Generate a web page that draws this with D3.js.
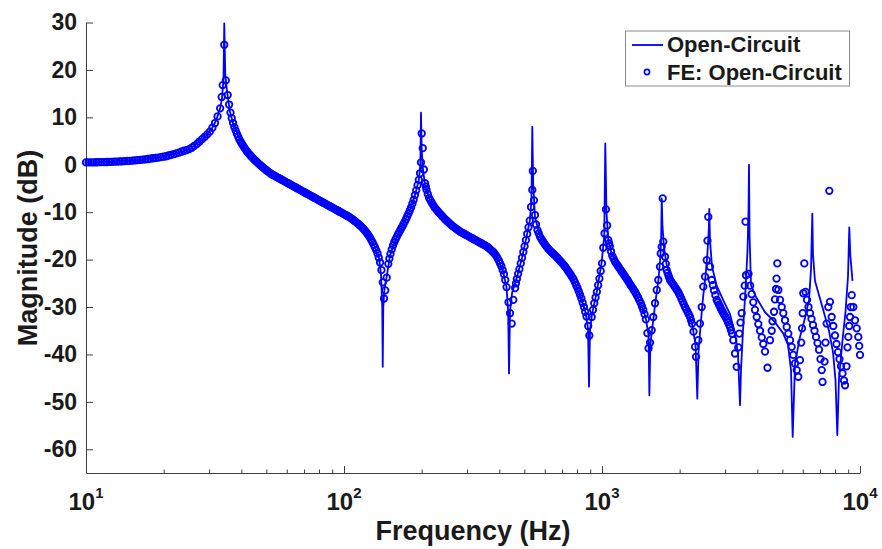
<!DOCTYPE html>
<html>
<head>
<meta charset="utf-8">
<script src="https://cdn.jsdelivr.net/npm/d3@7"></script>
<style>
  html, body { margin: 0; padding: 0; background: #ffffff; }
  svg { display: block; }
  text { font-family: "Liberation Sans", Arial, Helvetica, sans-serif; font-weight: bold; fill: #1a1a1a; }
</style>
</head>
<body>
<svg id="chart" width="882" height="549"></svg>
<script>
// ---------- data ----------
// Analytical curve "Open-Circuit": [frequency Hz, magnitude dB]
const openCircuitLine = [
  [10,0.5],[11.33,0.55],[13.55,0.7],[16.19,1.0],[19.36,1.6],[23.14,2.6],[25.3,3.3],[27.66,5.0],[29.18,6.1],[30.79,7.7],
  [31.91,9.3],[33.07,11.8],[33.66,14.0],[34.11,18.0],[34.35,29.8],[34.66,19.0],[35.2,15.5],[36.15,11.2],[37.13,8.8],[38.38,6.9],
  [39.88,4.7],[41.97,2.8],[45.19,0.9],[48.67,-0.7],[56.48,-2.9],[65.17,-4.9],[76.04,-6.8],[88.26,-8.8],[102.4,-10.6],[111.3,-12.0],
  [118.8,-13.3],[125.9,-15.3],[131.9,-17.4],[136.7,-19.7],[139.1,-23],[140.7,-30],[141.3,-42.6],[142.0,-30],[143.5,-26.2],[146.4,-23.6],
  [150.8,-19.1],[158.5,-15.7],[169.3,-12.7],[180.2,-9.6],[188.4,-6.4],[195.0,-3.2],[197.7,0],[198.8,11.0],[200.1,3.0],[202.4,-1.0],
  [206.1,-4.3],[213.6,-7.0],[229.1,-9.6],[250.7,-11.9],[281.6,-14.1],[316.2,-15.6],[355.1,-17.1],[381.4,-18.6],[398.8,-20.3],[413.4,-22.5],
  [426.4,-25.8],[432.9,-31],[436.1,-44.0],[440.0,-31],[448.1,-27],[467.7,-23.8],[489.7,-19.6],[509.9,-15.2],[524.9,-11.8],[532.9,-7.5],
  [536.8,8.0],[541.1,-4],[549.9,-11.0],[575.0,-15.2],[628.7,-18.1],[691.7,-20.4],[751.7,-23.0],[792.9,-25.3],[829.1,-28.0],[863.0,-31.2],
  [882.6,-34.5],[890.6,-46.8],[898.5,-35],[914.6,-31.5],[954.8,-26.8],[997.3,-20.5],[1020.5,-15],[1029.7,4.5],[1040.8,-10],[1058,-15.9],
  [1093,-19.0],[1174,-22.0],[1284,-25.3],[1378,-28.0],[1441,-30.4],[1481,-32.6],[1515,-36],[1526,-48.6],[1539,-38],[1570,-34],
  [1612,-28.8],[1656,-24.1],[1683,-19.5],[1696,-15],[1704,-7.1],[1716,-13],[1739,-17.5],[1786,-21.5],[1868,-24.3],[2006,-27.5],
  [2136,-30.5],[2233,-33.5],[2304,-38],[2341,-49.3],[2366,-39.5],[2409,-34],[2464,-28],[2519,-23.5],[2564,-18.5],[2594,-13.5],
  [2605,-9.3],[2622,-16],[2670,-21.5],[2783,-25.5],[2952,-28.6],[3134,-31.5],[3277,-35.5],[3366,-40],[3427,-50.7],[3458,-43.3],
  [3520,-34.9],[3599,-26.4],[3665,-18.0],[3697,-9.6],[3713,0],[3733,-15],[3780,-25.4],[3953,-27.9],[4284,-31.1],[4682,-33.2],
  [5031,-35.5],[5259,-38.0],[5403,-43.3],[5484,-57.4],[5599,-41.9],[5853,-36.3],[6121,-32.3],[6344,-28.5],[6458,-22],[6534,-10.3],
  [6574,-19],[6693,-24.5],[7208,-30.7],[7582,-35.0],[7858,-39.5],[8036,-45.4],[8166,-57.0],[8291,-45],[8555,-37],[8787,-31],
  [8985,-23.5],[9089,-13.2],[9171,-19],[9353,-24.5]
];

// Finite-element points "FE: Open-Circuit": [frequency Hz, magnitude dB]
const feOpenCircuit = [
  [10.00,0.50],[10.23,0.50],[10.47,0.51],[10.72,0.52],[10.96,0.53],[11.22,0.54],[11.48,0.55],[11.75,0.57],[12.02,0.58],[12.30,0.60],
  [12.59,0.62],[12.88,0.65],[13.18,0.67],[13.49,0.70],[13.80,0.73],[14.13,0.76],[14.45,0.80],[14.79,0.84],[15.14,0.88],[15.49,0.93],
  [15.85,0.98],[16.22,1.03],[16.60,1.09],[16.98,1.15],[17.38,1.22],[17.78,1.29],[18.20,1.37],[18.62,1.45],[19.05,1.50],[19.50,1.60],
  [19.95,1.70],[20.42,1.80],[20.89,1.95],[21.38,2.10],[21.88,2.25],[22.39,2.40],[22.91,2.55],[23.44,2.75],[23.99,2.95],[24.55,3.10],
  [25.12,3.30],[25.70,3.60],[26.30,4.00],[26.92,4.40],[27.54,4.90],[28.18,5.40],[28.84,5.90],[29.51,6.40],[30.20,7.00],[30.90,7.80],
  [31.62,8.80],[32.36,10.2],[33.11,11.9],[33.57,14.3],[33.87,16.8],[34.35,25.3],[34.82,17.8],[35.42,14.7],[36.31,11.0],[37.15,8.8],
  [38.02,7.2],[38.90,5.9],[39.81,4.8],[40.74,3.9],[41.69,3.1],[42.66,2.4],[43.65,1.8],[44.67,1.2],[45.71,0.7],[46.77,0.2],
  [47.86,-0.3],[48.98,-0.75],[50.12,-1.2],[51.29,-1.6],[52.48,-2.0],[53.70,-2.3],[54.95,-2.6],[56.23,-2.9],[57.54,-3.2],[58.88,-3.5],
  [60.26,-3.8],[61.66,-4.1],[63.10,-4.4],[64.57,-4.7],[66.07,-5.0],[67.61,-5.3],[69.18,-5.6],[70.79,-5.9],[72.44,-6.2],[74.13,-6.5],
  [75.86,-6.8],[77.62,-7.1],[79.43,-7.4],[81.28,-7.7],[83.18,-8.0],[85.11,-8.3],[87.10,-8.6],[89.13,-8.9],[91.20,-9.2],[93.33,-9.5],
  [95.50,-9.8],[97.72,-10.1],[100.0,-10.4],[102.3,-10.7],[104.7,-11.0],[107.2,-11.4],[109.6,-11.8],[112.2,-12.2],[114.8,-12.7],[117.5,-13.2],
  [120.2,-13.8],[123.0,-14.5],[125.9,-15.3],[128.8,-16.3],[131.8,-17.4],[134.9,-18.7],[138.0,-20.6],[139.7,-22.2],[141.3,-24.8],[142.9,-28.2],
  [144.5,-26.5],[146.4,-23.8],[148.5,-20.9],[151.4,-18.8],[154.9,-17.0],[158.5,-15.7],[162.2,-14.6],[166.0,-13.6],[169.8,-12.6],[173.8,-11.5],
  [177.8,-10.3],[182.0,-9.0],[186.2,-7.4],[190.5,-5.4],[195.0,-3.2],[197.1,-1.8],[198.8,0.5],[200.1,6.6],[201.9,3.5],[204.0,-1.0],
  [206.1,-3.9],[208.9,-5.3],[213.8,-7.0],[218.8,-8.0],[223.9,-8.9],[229.1,-9.6],[234.4,-10.2],[239.9,-10.8],[245.5,-11.4],[251.2,-11.9],
  [257.0,-12.4],[263.0,-12.9],[269.2,-13.3],[275.4,-13.7],[281.8,-14.1],[288.4,-14.4],[295.1,-14.7],[302.0,-15.0],[309.0,-15.3],[316.2,-15.6],
  [323.6,-15.9],[331.1,-16.2],[338.8,-16.5],[346.7,-16.8],[354.8,-17.1],[363.1,-17.5],[371.5,-18.0],[380.2,-18.5],[389.0,-19.2],[398.1,-20.2],
  [407.4,-21.4],[416.9,-23.1],[426.6,-25.8],[434.1,-29.0],[440.0,-31.3],[446.7,-33.5],[453.1,-28.5],[460.5,-26.0],[467.7,-24.1],[478.6,-22.0],
  [489.8,-19.6],[501.2,-17.2],[512.9,-14.6],[524.8,-11.8],[530.7,-8.9],[536.8,-5.3],[539.3,-1.3],[545.0,-7.5],[549.9,-10.6],[554.9,-12.6],
  [562.3,-13.8],[575.4,-15.2],[588.8,-16.1],[602.6,-16.9],[616.6,-17.6],[631.0,-18.2],[645.7,-18.7],[660.7,-19.2],[676.1,-19.8],[691.8,-20.4],
  [707.9,-21.0],[724.4,-21.7],[741.3,-22.5],[758.6,-23.3],[776.2,-24.2],[794.3,-25.4],[812.8,-26.7],[831.8,-28.2],[851.1,-30.0],[871.0,-32.0],
  [884.2,-34.0],[893.0,-36.0],[912.0,-32.1],[933.3,-29.2],[955.0,-26.8],[977.2,-24.0],[1000,-20.8],[1011.5,-17.5],[1023,-14.5],[1036,-9.4],
  [1047,-12.8],[1058,-15.9],[1072,-17.2],[1096,-19.2],[1122,-20.4],[1148,-21.2],[1175,-22.0],[1202,-22.8],[1230,-23.6],[1259,-24.4],
  [1288,-25.3],[1318,-26.1],[1349,-27.0],[1380,-28.0],[1413,-29.2],[1445,-30.6],[1479,-32.6],[1499,-35.5],[1515,-38.7],[1535,-37.5],
  [1558,-34.9],[1580,-32.1],[1605,-29.2],[1630,-26.4],[1653,-24.3],[1678,-21.5],[1689,-18.7],[1704,-17.3],[1719,-7.1],[1728,-16.2],
  [1755,-19.4],[1781,-22.2],[1811,-23.4],[1835,-24.3],[1876,-25.0],[1918,-25.8],[1962,-26.6],[2006,-27.6],[2051,-28.8],[2097,-30.0],
  [2145,-31.0],[2194,-32.1],[2233,-33.5],[2263,-35.2],[2294,-38.4],[2314,-40.5],[2362,-37.0],[2397,-33.5],[2435,-30.0],[2470,-25.7],
  [2508,-23.6],[2546,-20.1],[2564,-16.0],[2582,-11.0],[2622,-21.5],[2662,-24.3],[2717,-26.5],[2783,-28.5],[2841,-29.5],[2892,-30.4],
  [2952,-31.3],[3011,-32.1],[3079,-33.2],[3134,-34.2],[3191,-35.6],[3228,-37.0],[3277,-39.8],[3327,-42.6],[3375,-38.5],[3405,-35.6],
  [3442,-33.3],[3479,-31.3],[3529,-27.8],[3574,-25.5],[3615,-23.3],[3599,-12.0],[3697,-23.0],[3753,-25.5],[3804,-27.3],[3858,-29.0],
  [3917,-30.6],[3977,-32.1],[4035,-33.6],[4097,-35.0],[4160,-36.4],[4219,-37.8],[4284,-39.4],[4380,-42.8],[4479,-37.0],[4548,-35.0],
  [4581,-33.0],[4642,-31.0],[4682,-28.4],[4725,-26.2],[4747,-24.0],[4781,-20.8],[4823,-26.4],[4898,-28.5],[4972,-30.0],[5044,-31.3],
  [5121,-32.8],[5199,-34.2],[5274,-35.6],[5354,-37.0],[5436,-38.4],[5514,-40.1],[5599,-41.9],[5685,-43.3],[5766,-44.7],[5853,-41.2],
  [5917,-37.5],[5960,-34.5],[5997,-31.3],[6029,-27.1],[6083,-20.8],[6149,-26.8],[6232,-28.5],[6316,-30.0],[6401,-31.3],[6487,-32.5],
  [6574,-33.8],[6662,-35.0],[6753,-36.3],[6844,-37.6],[6936,-39.0],[7029,-41.0],[7105,-43.3],[7157,-45.8],[7285,-41.5],[7350,-37.5],
  [7429,-33.5],[7536,-30.0],[7604,-5.5],[7651,-28.9],[7767,-32.1],[7880,-34.0],[8000,-36.0],[8108,-37.8],[8217,-39.5],[8328,-41.0],
  [8442,-42.5],[8555,-44.0],[8670,-45.5],[8749,-46.5],[8866,-42.5],[8946,-38.5],[9010,-36.3],[9081,-34.0],[9146,-32.1],[9212,-30.0],
  [9286,-27.5],[9420,-30.0],[9563,-32.8],[9710,-34.5],[9850,-36.3],[9930,-38.2],[10000,-40.1]
];

// Further FE points on the smooth stretches, where the markers merge into a solid band
const feOpenCircuitDense = [
  [35.86,12.7],[36.73,9.8],[37.58,7.95],[38.46,6.5],[39.35,5.3],[40.27,4.35],[41.21,3.5],[42.17,2.75],[43.15,2.1],[44.16,1.5],
  [45.18,0.95],[46.24,0.45],[47.31,-0.05],[48.41,-0.52],[49.55,-0.97],[50.70,-1.4],[51.88,-1.8],[53.09,-2.15],[54.32,-2.45],[55.59,-2.75],
  [56.88,-3.05],[58.21,-3.35],[59.57,-3.65],[60.95,-3.95],[62.37,-4.25],[63.83,-4.55],[65.31,-4.85],[66.83,-5.15],[68.39,-5.45],[69.98,-5.75],
  [71.61,-6.05],[73.28,-6.35],[74.99,-6.65],[76.74,-6.95],[78.52,-7.25],[80.35,-7.55],[82.22,-7.85],[84.14,-8.15],[86.10,-8.45],[88.11,-8.75],
  [90.16,-9.05],[92.26,-9.35],[94.41,-9.65],[96.61,-9.95],[98.86,-10.25],[101.2,-10.55],[103.5,-10.85],[105.9,-11.2],[108.4,-11.6],[110.9,-12.0],
  [113.5,-12.45],[116.1,-12.95],[118.8,-13.5],[121.6,-14.15],[124.5,-14.9],[127.3,-15.8],[130.3,-16.85],[133.3,-18.0],[136.4,-19.6],
  [149.9,-19.8],[153.1,-17.85],[156.7,-16.3],[160.3,-15.15],[164.1,-14.1],[167.9,-13.1],[171.8,-12.05],[175.8,-10.9],[179.9,-9.65],[184.1,-8.2],
  [188.3,-6.4],[192.7,-4.3],
  [207.5,-4.6],[211.3,-6.2],[216.3,-7.5],[221.3,-8.45],[226.5,-9.25],[231.7,-9.9],[237.1,-10.5],[242.7,-11.1],[248.3,-11.65],[254.1,-12.15],
  [260.0,-12.65],[266.1,-13.1],[272.3,-13.5],[278.6,-13.9],[285.1,-14.25],[291.7,-14.55],[298.5,-14.85],[305.5,-15.15],[312.6,-15.45],[319.9,-15.75],
  [327.3,-16.05],[334.9,-16.35],[342.7,-16.65],[350.7,-16.95],[358.9,-17.3],[367.3,-17.75],[375.8,-18.25],[384.6,-18.85],[393.5,-19.7],[402.7,-20.8],
  [412.1,-22.2],[421.7,-24.3],
  [464.1,-25.0],[473.1,-23.0],[484.2,-20.8],[495.5,-18.4],[507.0,-15.9],[518.8,-13.2],
  [568.8,-14.5],[582.1,-15.65],[595.7,-16.5],[609.6,-17.25],[623.8,-17.9],[638.3,-18.45],[653.2,-18.95],[668.4,-19.5],[683.9,-20.1],[699.8,-20.7],
  [716.1,-21.35],[732.8,-22.1],[749.9,-22.9],[767.4,-23.75],[785.2,-24.8],[803.5,-26.0],[822.3,-27.45],[841.4,-29.1],[861.0,-31.0],
  [922.6,-30.6],[944.1,-28.0],[966.1,-25.4],[988.5,-22.4],
  [1065,-16.6],[1084,-18.3],[1109,-19.8],[1135,-20.8],[1161,-21.6],[1188,-22.4],[1216,-23.2],[1244,-24.0],[1273,-24.85],[1303,-25.7],
  [1333,-26.55],[1364,-27.5],[1396,-28.6],[1429,-29.9],[1462,-31.5],
  [1768,-20.9],[1796,-22.8],[1823,-23.85],[1855,-24.65],[1897,-25.4],[1940,-26.2],[1984,-27.1],[2028,-28.2],[2074,-29.4],[2121,-30.5],
  [2169,-31.55],[2213,-32.8],
  [2689,-25.4],[2750,-27.5],[2812,-29.0],[2866,-29.95],[2922,-30.85],[2981,-31.7],[3045,-32.65],[3106,-33.7],[3162,-34.9]
];

const yTicks = [-60, -50, -40, -30, -20, -10, 0, 10, 20, 30];
const xTickExponents = [1, 2, 3, 4];
const xMinorTicks = [20,30,40,50,60,70,80,90,200,300,400,500,600,700,800,900,2000,3000,4000,5000,6000,7000,8000,9000];
const legendLabels = ["Open-Circuit", "FE: Open-Circuit"];
const axisTitles = { x: "Frequency (Hz)", y: "Magnitude (dB)" };

// ---------- drawing ----------
const BLUE = "#0000ff";
const AXIS = "#404040";
const svg = d3.select("#chart");
svg.append("rect").attr("width", 882).attr("height", 549).attr("fill", "#ffffff");

const x = d3.scaleLog().domain([10, 10000]).range([86, 860]);
const y = d3.scaleLinear().domain([-65, 30]).range([473, 22.5]);

// y axis
const gy = svg.append("g").attr("transform", "translate(86,0)")
  .call(d3.axisLeft(y).tickValues(yTicks).tickSizeInner(-7).tickSizeOuter(0).tickPadding(9)
    .tickFormat(d => String(d)));
gy.selectAll("path.domain").attr("stroke", AXIS).attr("stroke-width", 1);
gy.selectAll(".tick line").attr("stroke", AXIS).attr("stroke-width", 1);
gy.selectAll(".tick text").attr("font-size", 23).attr("font-weight", "bold")
  .attr("font-family", '"Liberation Sans", Arial, sans-serif').attr("fill", "#1a1a1a");

// x axis (major)
const gx = svg.append("g").attr("transform", "translate(0,473)")
  .call(d3.axisBottom(x).tickValues(xTickExponents.map(e => Math.pow(10, e)))
    .tickSizeInner(-7).tickSizeOuter(0).tickFormat(""));
gx.selectAll("path.domain").attr("stroke", AXIS).attr("stroke-width", 1);
gx.selectAll(".tick line").attr("stroke", AXIS).attr("stroke-width", 1);

// x axis (minor)
const gxm = svg.append("g").attr("transform", "translate(0,473)")
  .call(d3.axisBottom(x).tickValues(xMinorTicks).tickSizeInner(-3.5).tickSizeOuter(0).tickFormat(""));
gxm.select("path.domain").remove();
gxm.selectAll(".tick line").attr("stroke", AXIS).attr("stroke-width", 1);

// x tick labels 10^n
const xl = svg.append("g");
xTickExponents.forEach(e => {
  const t = xl.append("text")
    .attr("x", x(Math.pow(10, e)))
    .attr("y", 510)
    .attr("text-anchor", "middle")
    .attr("font-size", 24);
  t.append("tspan").text("10");
  t.append("tspan").attr("dy", -12).attr("font-size", 15).text(String(e));
});

// axis titles
svg.append("text").attr("x", 473).attr("y", 540).attr("text-anchor", "middle")
  .attr("font-size", 27).text(axisTitles.x);
svg.append("text").attr("transform", "translate(37,248) rotate(-90)").attr("text-anchor", "middle")
  .attr("font-size", 27).text(axisTitles.y);

// analytical line
const line = d3.line().x(d => x(d[0])).y(d => y(d[1]));
svg.append("path").datum(openCircuitLine)
  .attr("d", line).attr("fill", "none").attr("stroke", BLUE)
  .attr("stroke-width", 1.8).attr("stroke-linejoin", "round");

// FE circles
svg.append("g").selectAll("circle").data(feOpenCircuit.concat(feOpenCircuitDense)).join("circle")
  .attr("cx", d => x(d[0])).attr("cy", d => y(d[1])).attr("r", 3.25)
  .attr("fill", "none").attr("stroke", BLUE).attr("stroke-width", 1.8);

// legend
const lg = svg.append("g");
lg.append("rect").attr("x", 625.5).attr("y", 31).attr("width", 224).attr("height", 55)
  .attr("fill", "#ffffff").attr("stroke", "#8c8c8c").attr("stroke-width", 1);
lg.append("line").attr("x1", 632).attr("x2", 663).attr("y1", 45).attr("y2", 45)
  .attr("stroke", BLUE).attr("stroke-width", 1.8);
lg.append("circle").attr("cx", 647).attr("cy", 72).attr("r", 2.6)
  .attr("fill", "none").attr("stroke", BLUE).attr("stroke-width", 1.6);
lg.append("text").attr("x", 667).attr("y", 52).attr("font-size", 22).text(legendLabels[0]);
lg.append("text").attr("x", 667).attr("y", 79.5).attr("font-size", 22).text(legendLabels[1]);
</script>
</body>
</html>
